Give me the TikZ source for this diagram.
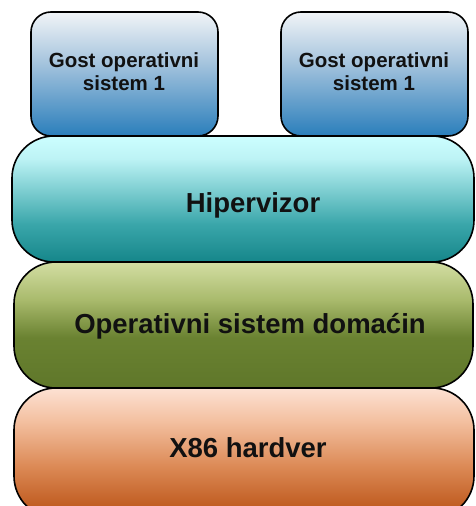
\documentclass[tikz,border=0pt]{standalone}
\usepackage{fontspec}
\setmainfont{Liberation Sans}
\definecolor{gtop}{HTML}{F1F4F7}
\definecolor{gmid}{HTML}{A7C5DE}
\definecolor{gbot}{HTML}{2A7EBB}
\definecolor{htop}{HTML}{CCFEFF}
\definecolor{hup}{HTML}{BDF3F5}
\definecolor{hmid}{HTML}{3AA6AA}
\definecolor{hbot}{HTML}{15868A}
\definecolor{otop}{HTML}{D3DEA3}
\definecolor{oup}{HTML}{A9BA6C}
\definecolor{omid}{HTML}{6A8231}
\definecolor{obot}{HTML}{5F772A}
\definecolor{xtop}{HTML}{FDE1D3}
\definecolor{xup}{HTML}{F3BF9F}
\definecolor{xmid}{HTML}{DC8A56}
\definecolor{xbot}{HTML}{B84F12}
\definecolor{ink}{HTML}{111111}
% vertical shadings: 25bp = bottom of the shape, 75bp = top
\pgfdeclareverticalshading{guestfill}{100bp}{color(0bp)=(gbot); color(25bp)=(gbot); color(55bp)=(gmid); color(75bp)=(gtop); color(100bp)=(gtop)}
\pgfdeclareverticalshading{hvfill}{100bp}{color(0bp)=(hbot); color(25bp)=(hbot); color(40bp)=(hmid); color(66bp)=(hup); color(75bp)=(htop); color(100bp)=(htop)}
\pgfdeclareverticalshading{osfill}{100bp}{color(0bp)=(obot); color(25bp)=(obot); color(45bp)=(omid); color(60bp)=(oup); color(75bp)=(otop); color(100bp)=(otop)}
\pgfdeclareverticalshading{hwfill}{100bp}{color(0bp)=(xbot); color(25bp)=(xbot); color(45bp)=(xmid); color(62bp)=(xup); color(75bp)=(xtop); color(100bp)=(xtop)}
\tikzset{
  layer/.style={draw=black, line width=1.6pt, rectangle, inner sep=0pt},
  guestbox/.style={layer, shading=guestfill, shade, rounded corners=20pt,
    minimum width=187pt, minimum height=124pt},
  widebox/.style={layer, rounded corners=42pt},
  smalltxt/.style={font=\bfseries\fontsize{20.5}{23}\selectfont, align=center, text=ink},
  bigtxt/.style={font=\bfseries\fontsize{27.5}{30}\selectfont, anchor=base, text=ink}
}
\begin{document}
\begin{tikzpicture}[x=1pt,y=-1pt]
\useasboundingbox (0,0) rectangle (476,506);
\fill[white] (0,0) rectangle (476,506);
\clip (0,0) rectangle (476,506);
% guest systems on top of the hypervisor
\node[guestbox] (g1) at (124.5,74) {};
\node[guestbox] (g2) at (374.5,74) {};
\node[smalltxt] (g1t) at (124,72) {Gost operativni\\sistem 1};
\node[smalltxt] (g2t) at (374,72) {Gost operativni\\sistem 1};
% layered stack
\node[widebox, shading=hvfill, shade, minimum width=462pt, minimum height=126pt] (hv) at (243,199) {};
\node[bigtxt] (hvt) at (253,212) {Hipervizor};
\node[widebox, shading=osfill, shade, minimum width=459pt, minimum height=126pt] (os) at (243.5,325) {};
\node[bigtxt] (ost) at (250,333) {Operativni sistem domaćin};
\node[widebox, shading=hwfill, shade, minimum width=460pt, minimum height=130pt] (hw) at (244,453) {};
\node[bigtxt] (hwt) at (248,457) {X86 hardver};
\end{tikzpicture}
\end{document}
